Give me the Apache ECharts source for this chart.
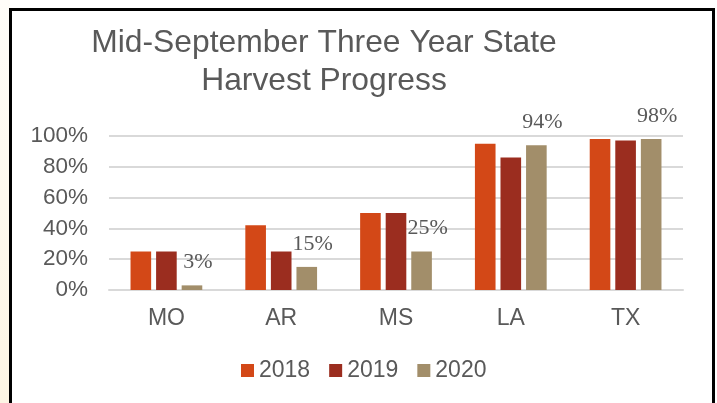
<!DOCTYPE html>
<html>
<head>
<meta charset="utf-8">
<script src="https://cdn.jsdelivr.net/npm/echarts@6/dist/echarts.min.js"></script>
<style>
html,body{margin:0;padding:0;width:717px;height:403px;overflow:hidden;background:#fff;}
#strip{position:absolute;left:0;top:0;width:10px;height:403px;background:linear-gradient(to bottom,#fffdf8,#fdf5e4);}
#chart{position:absolute;left:0;top:0;width:717px;height:403px;}
#frame{position:absolute;left:9px;top:8px;width:706px;height:420px;box-sizing:border-box;border:3px solid #000;pointer-events:none;}
</style>
</head>
<body>
<div id="strip"></div>
<div id="chart"></div>
<div id="frame"></div>
<script>
const categories = ['MO', 'AR', 'MS', 'LA', 'TX'];
const seriesNames = ['2018', '2019', '2020'];
const values2018 = [25, 42, 50, 95, 98];
const values2019 = [25, 25, 50, 86, 97];
const values2020 = [3, 15, 25, 94, 98];
const yTicks = [0, 20, 40, 60, 80, 100];
const colors = ['#D34817', '#9B2D1F', '#A28E6A'];

const chart = echarts.init(document.getElementById('chart'), null, {renderer: 'canvas'});
const txt = '#595959';
const sans = 'Liberation Sans, Arial, sans-serif';

function makeSeries(name, data, color, withLabel) {
  return {
    name: name,
    type: 'bar',
    data: data,
    barGap: '24%',
    barCategoryGap: '37.5%',
    itemStyle: {color: color},
    label: withLabel ? {
      show: true,
      position: 'top',
      distance: 12,
      offset: [6, 0],
      formatter: '{c}%',
      fontFamily: 'Liberation Serif, Times New Roman, serif',
      fontSize: 22,
      color: txt
    } : {show: false},
    emphasis: {disabled: true}
  };
}

chart.setOption({
  animation: false,
  backgroundColor: 'transparent',
  title: {
    text: 'Mid-September Three Year State\nHarvest Progress',
    left: 324,
    top: 24,
    padding: 0,
    textAlign: 'center',
    textStyle: {
      fontFamily: sans,
      fontSize: 31.8,
      fontWeight: 'normal',
      color: txt,
      lineHeight: 38
    }
  },
  legend: {
    data: seriesNames,
    left: 241,
    top: 359,
    padding: 0,
    itemWidth: 13,
    itemHeight: 13,
    itemGap: 19,
    icon: 'rect',
    textStyle: {fontFamily: sans, fontSize: 23, color: txt}
  },
  grid: {left: 109, right: 34, top: 136, bottom: 113, containLabel: false},
  xAxis: {
    type: 'category',
    data: categories,
    axisLine: {lineStyle: {color: '#d9d9d9', width: 2}},
    axisTick: {show: false},
    axisLabel: {fontFamily: sans, fontSize: 23, color: txt, margin: 17}
  },
  yAxis: {
    type: 'value',
    min: yTicks[0],
    max: yTicks[yTicks.length - 1],
    interval: 20,
    axisLine: {show: false},
    axisTick: {show: false},
    splitLine: {lineStyle: {color: '#d9d9d9', width: 2}},
    axisLabel: {fontFamily: sans, fontSize: 22.5, color: txt, margin: 21, formatter: '{value}%'}
  },
  series: [
    makeSeries(seriesNames[0], values2018, colors[0], false),
    makeSeries(seriesNames[1], values2019, colors[1], false),
    makeSeries(seriesNames[2], values2020, colors[2], true)
  ]
});
</script>
</body>
</html>
